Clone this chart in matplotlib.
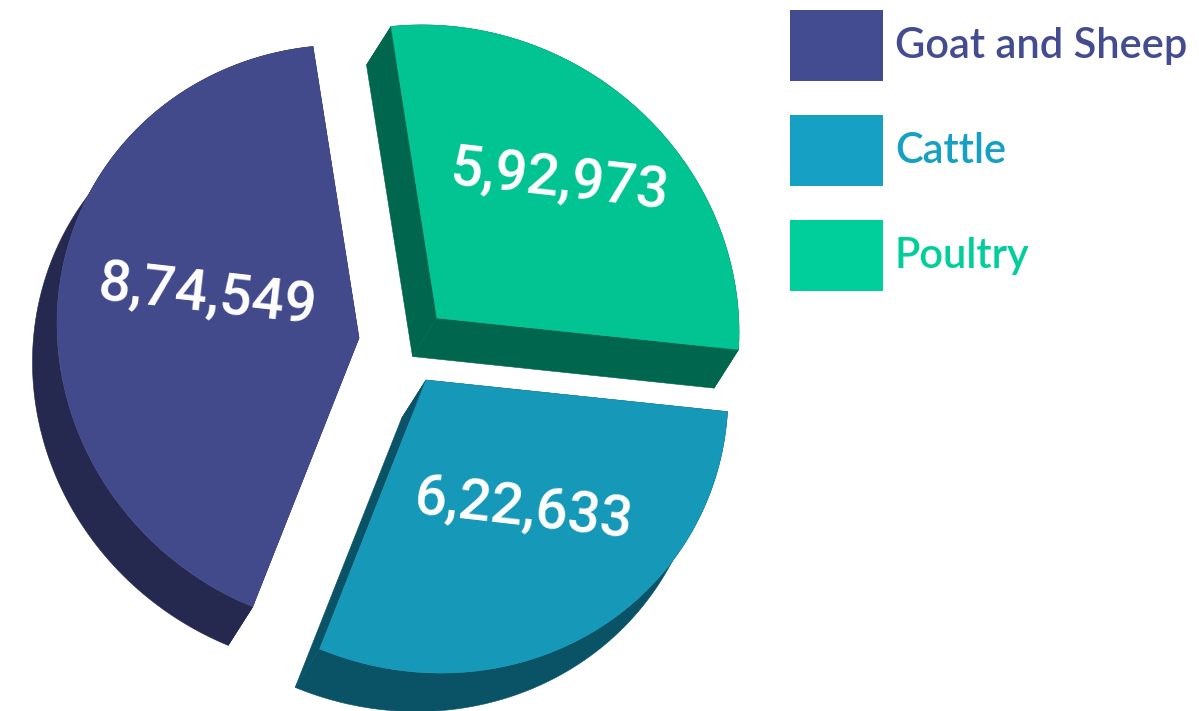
import numpy as np
import matplotlib
matplotlib.use("Agg")
import matplotlib.pyplot as plt
from matplotlib.patches import Polygon, Rectangle

categories = ["Goat and Sheep", "Cattle", "Poultry"]
values = [874549, 622633, 592973]
value_labels = ["8,74,549", "6,22,633", "5,92,973"]

W, H = 1199, 711
top_colors = {"Goat and Sheep": "#434A8B", "Cattle": "#1698B9", "Poultry": "#02C392"}
side_colors = {"Goat and Sheep": "#25284F", "Cattle": "#0A5266", "Poultry": "#00664D"}
legend_colors = {"Goat and Sheep": "#434C90", "Cattle": "#16A0C4", "Poultry": "#00CE9B"}

# layout: projection of the unit pie on the page, slice origins, extrusion
col_a = np.array([-46.0, -291.5])
col_b = np.array([298.5, -30.3])
depth = np.array([-24.5, 38.5])
origins = {"Poultry": (437, 318), "Cattle": (426, 380), "Goat and Sheep": (359, 338)}
label_pos = {"Goat and Sheep": (207, 296), "Cattle": (524, 510), "Poultry": (559, 181)}
label_rot = -6.5
draw_order = ["Poultry", "Cattle", "Goat and Sheep"]

fig = plt.figure(figsize=(W / 100, H / 100), dpi=100)
ax = fig.add_axes([0, 0, 1, 1])
ax.set_xlim(0, W)
ax.set_ylim(H, 0)
ax.axis("off")

vals = dict(zip(categories, values))
total = sum(values)
start = 0.0
arcs = {}
for name in draw_order:
    sweep = 2 * np.pi * vals[name] / total
    phi = np.linspace(start, start + sweep, 200)
    arcs[name] = np.outer(np.cos(phi), col_a) + np.outer(np.sin(phi), col_b) + np.array(origins[name])
    start += sweep

for name in draw_order:
    arc = arcs[name]
    o = np.array(origins[name], dtype=float)
    side = dict(fc=side_colors[name], ec=side_colors[name], lw=0.4, zorder=2)
    ax.add_patch(Polygon(np.vstack([arc, (arc + depth)[::-1]]), closed=True, **side))
    for end in (arc[0], arc[-1]):
        ax.add_patch(Polygon([o, end, end + depth, o + depth], closed=True, **side))
    ax.add_patch(Polygon(np.vstack([o, arc]), closed=True, fc=top_colors[name],
                         ec=top_colors[name], lw=0.3, zorder=3))

for name, lab in zip(categories, value_labels):
    x, y = label_pos[name]
    ax.text(x, y, lab, color="white", fontsize=41, family="Roboto", fontweight="medium",
            rotation=label_rot, rotation_mode="anchor", ha="center", va="center", zorder=5)

for i, name in enumerate(categories):
    y0 = 10 + i * 105
    ax.add_patch(Rectangle((790, y0), 93, 71, fc=legend_colors[name], ec="none", zorder=4))
    ax.text(895, y0 + 48, name, color=legend_colors[name], fontsize=30,
            family="Lato", fontweight="semibold", ha="left", va="baseline", zorder=5)

fig.savefig("out.png", dpi=100, facecolor="white")
